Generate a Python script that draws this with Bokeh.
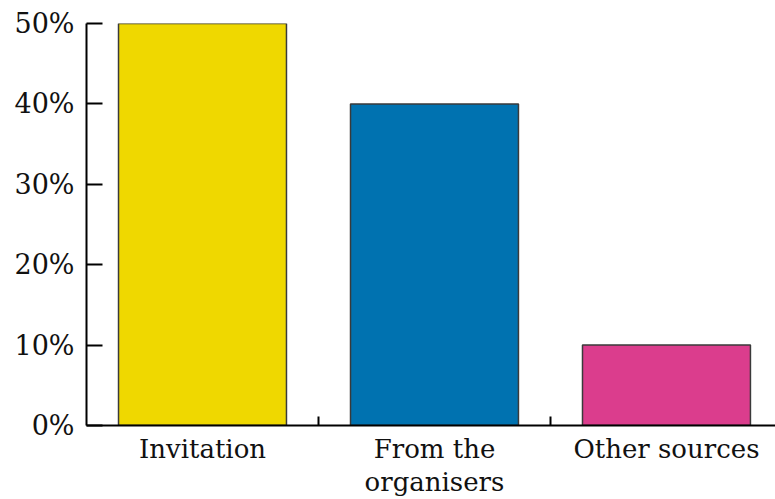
from bokeh.plotting import figure
from bokeh.models import Range1d, FixedTicker, ColumnDataSource
from bokeh.embed import file_html
from bokeh.resources import INLINE

categories = ["Invitation", "From the\norganisers", "Other sources"]
values = [50, 40, 10]
colors = ["#EFD800", "#0072B0", "#DB3D8D"]
y_ticks = [0, 10, 20, 30, 40, 50]

xs = list(range(len(categories)))
src = ColumnDataSource(dict(x=xs, top=values, color=colors))

p = figure(width=775, height=499, output_backend="svg", toolbar_location=None,
           x_range=Range1d(-0.5, 2.47), y_range=Range1d(0, 50),
           min_border_left=86, min_border_top=23, min_border_bottom=70, min_border_right=0)
p.outline_line_color = None
p.grid.visible = False
p.background_fill_color = None
p.border_fill_color = "white"

p.vbar(x="x", top="top", width=0.724, bottom=0, fill_color="color",
       line_color="#3a3a3a", line_width=1.5, source=src)

font = "DejaVu Serif"
xa = p.xaxis[0]
xa.ticker = FixedTicker(ticks=xs, minor_ticks=[i + 0.5 for i in xs[:-1]])
xa.major_label_overrides = {i: c for i, c in zip(xs, categories)}
xa.major_tick_in = 0
xa.major_tick_out = 0
xa.minor_tick_in = 9
xa.minor_tick_out = 0
xa.minor_tick_line_width = 2
xa.minor_tick_line_color = "black"
xa.axis_line_width = 2
xa.axis_line_color = "black"
xa.major_label_text_font = font
xa.major_label_text_font_size = "26px"
xa.major_label_text_line_height = 1.1
xa.major_label_text_color = "#111111"
xa.major_label_standoff = 8

ya = p.yaxis[0]
ya.ticker = FixedTicker(ticks=y_ticks, minor_ticks=[])
ya.major_label_overrides = {t: f"{t}%" for t in y_ticks}
ya.major_tick_in = 16
ya.major_tick_out = 0
ya.major_tick_line_width = 2
ya.major_tick_line_color = "black"
ya.minor_tick_line_color = None
ya.axis_line_width = 2
ya.axis_line_color = "black"
ya.major_label_text_font = font
ya.major_label_text_font_size = "27px"
ya.major_label_text_color = "#111111"
ya.major_label_standoff = 12

open("out.html", "w").write(file_html(p, INLINE))
